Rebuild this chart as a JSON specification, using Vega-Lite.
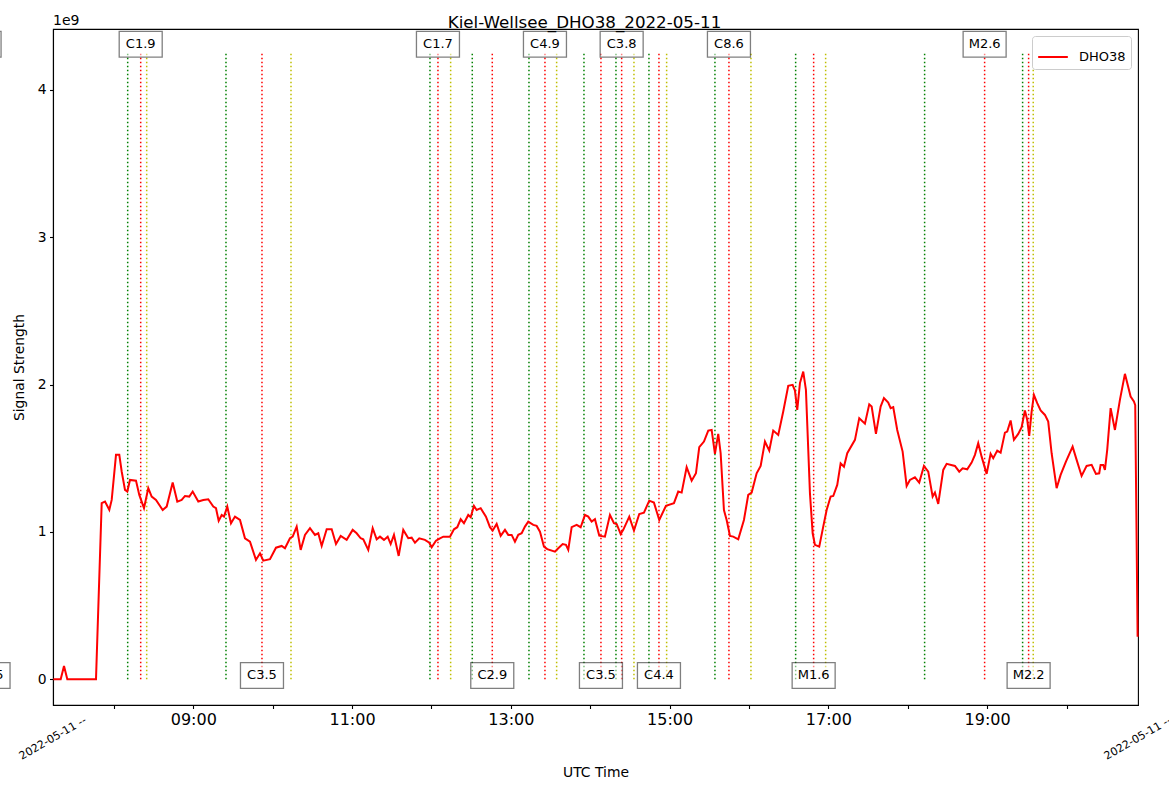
{
  "$schema": "https://vega.github.io/schema/vega-lite/v6.json",
  "width": 1085,
  "height": 676,
  "autosize": {"type": "none"},
  "padding": {"left": 53, "top": 29, "right": 31, "bottom": 87},
  "background": "white",
  "config": {
    "font": "DejaVu Sans",
    "view": {"stroke": "black", "strokeWidth": 1.1},
    "axis": {
      "grid": false,
      "domainColor": "black",
      "domainWidth": 1.1,
      "tickColor": "black",
      "tickWidth": 1.1,
      "labelColor": "black",
      "titleColor": "black",
      "titleFontWeight": "normal"
    }
  },
  "datasets": {
    "signal": [
      {"time": "2022-05-11T07:14:14", "signal": 0},
      {"time": "2022-05-11T07:19:49", "signal": 0},
      {"time": "2022-05-11T07:22:19", "signal": 0.09},
      {"time": "2022-05-11T07:24:49", "signal": 0},
      {"time": "2022-05-11T07:46:30", "signal": 0},
      {"time": "2022-05-11T07:50:48", "signal": 1.195},
      {"time": "2022-05-11T07:53:18", "signal": 1.206},
      {"time": "2022-05-11T07:56:33", "signal": 1.15},
      {"time": "2022-05-11T07:58:22", "signal": 1.217},
      {"time": "2022-05-11T08:01:37", "signal": 1.523},
      {"time": "2022-05-11T08:04:06", "signal": 1.523},
      {"time": "2022-05-11T08:05:55", "signal": 1.41},
      {"time": "2022-05-11T08:08:25", "signal": 1.285},
      {"time": "2022-05-11T08:10:09", "signal": 1.274},
      {"time": "2022-05-11T08:12:11", "signal": 1.353},
      {"time": "2022-05-11T08:16:43", "signal": 1.348},
      {"time": "2022-05-11T08:19:13", "signal": 1.251},
      {"time": "2022-05-11T08:22:46", "signal": 1.161},
      {"time": "2022-05-11T08:26:01", "signal": 1.297},
      {"time": "2022-05-11T08:28:35", "signal": 1.24},
      {"time": "2022-05-11T08:31:50", "signal": 1.217},
      {"time": "2022-05-11T08:36:54", "signal": 1.149},
      {"time": "2022-05-11T08:39:55", "signal": 1.172},
      {"time": "2022-05-11T08:44:27", "signal": 1.335},
      {"time": "2022-05-11T08:47:56", "signal": 1.206},
      {"time": "2022-05-11T08:51:15", "signal": 1.217},
      {"time": "2022-05-11T08:53:45", "signal": 1.244},
      {"time": "2022-05-11T08:57:00", "signal": 1.24},
      {"time": "2022-05-11T08:59:34", "signal": 1.274},
      {"time": "2022-05-11T09:03:48", "signal": 1.206},
      {"time": "2022-05-11T09:07:35", "signal": 1.217},
      {"time": "2022-05-11T09:11:21", "signal": 1.222},
      {"time": "2022-05-11T09:15:08", "signal": 1.172},
      {"time": "2022-05-11T09:17:11", "signal": 1.161},
      {"time": "2022-05-11T09:19:13", "signal": 1.075},
      {"time": "2022-05-11T09:21:29", "signal": 1.115},
      {"time": "2022-05-11T09:23:13", "signal": 1.104},
      {"time": "2022-05-11T09:25:43", "signal": 1.172},
      {"time": "2022-05-11T09:28:31", "signal": 1.059},
      {"time": "2022-05-11T09:31:32", "signal": 1.104},
      {"time": "2022-05-11T09:35:19", "signal": 1.081},
      {"time": "2022-05-11T09:39:05", "signal": 0.957},
      {"time": "2022-05-11T09:42:52", "signal": 0.934},
      {"time": "2022-05-11T09:47:24", "signal": 0.81},
      {"time": "2022-05-11T09:50:26", "signal": 0.855},
      {"time": "2022-05-11T09:52:55", "signal": 0.805},
      {"time": "2022-05-11T09:57:59", "signal": 0.815},
      {"time": "2022-05-11T10:02:31", "signal": 0.893},
      {"time": "2022-05-11T10:06:50", "signal": 0.905},
      {"time": "2022-05-11T10:09:19", "signal": 0.889},
      {"time": "2022-05-11T10:13:06", "signal": 0.957},
      {"time": "2022-05-11T10:15:08", "signal": 0.968},
      {"time": "2022-05-11T10:18:10", "signal": 1.036},
      {"time": "2022-05-11T10:21:11", "signal": 0.878},
      {"time": "2022-05-11T10:24:26", "signal": 0.98},
      {"time": "2022-05-11T10:28:13", "signal": 1.025},
      {"time": "2022-05-11T10:31:59", "signal": 0.98},
      {"time": "2022-05-11T10:34:29", "signal": 0.991},
      {"time": "2022-05-11T10:37:04", "signal": 0.905},
      {"time": "2022-05-11T10:40:50", "signal": 1.018},
      {"time": "2022-05-11T10:44:37", "signal": 1.018},
      {"time": "2022-05-11T10:47:52", "signal": 0.918},
      {"time": "2022-05-11T10:51:25", "signal": 0.973},
      {"time": "2022-05-11T10:55:57", "signal": 0.946},
      {"time": "2022-05-11T11:00:29", "signal": 1.014},
      {"time": "2022-05-11T11:03:30", "signal": 0.991},
      {"time": "2022-05-11T11:06:32", "signal": 0.957},
      {"time": "2022-05-11T11:08:30", "signal": 0.95},
      {"time": "2022-05-11T11:12:16", "signal": 0.878},
      {"time": "2022-05-11T11:15:36", "signal": 1.025},
      {"time": "2022-05-11T11:18:37", "signal": 0.95},
      {"time": "2022-05-11T11:21:07", "signal": 0.968},
      {"time": "2022-05-11T11:24:08", "signal": 0.946},
      {"time": "2022-05-11T11:26:56", "signal": 0.968},
      {"time": "2022-05-11T11:29:12", "signal": 0.918},
      {"time": "2022-05-11T11:31:41", "signal": 0.98},
      {"time": "2022-05-11T11:35:15", "signal": 0.837},
      {"time": "2022-05-11T11:38:43", "signal": 1.014},
      {"time": "2022-05-11T11:42:30", "signal": 0.957},
      {"time": "2022-05-11T11:45:04", "signal": 0.961},
      {"time": "2022-05-11T11:47:34", "signal": 0.927},
      {"time": "2022-05-11T11:50:49", "signal": 0.957},
      {"time": "2022-05-11T11:55:07", "signal": 0.946},
      {"time": "2022-05-11T11:58:22", "signal": 0.927},
      {"time": "2022-05-11T12:00:11", "signal": 0.896},
      {"time": "2022-05-11T12:03:26", "signal": 0.941},
      {"time": "2022-05-11T12:06:28", "signal": 0.957},
      {"time": "2022-05-11T12:08:57", "signal": 0.968},
      {"time": "2022-05-11T12:14:01", "signal": 0.968},
      {"time": "2022-05-11T12:17:02", "signal": 1.018},
      {"time": "2022-05-11T12:19:32", "signal": 1.032},
      {"time": "2022-05-11T12:22:06", "signal": 1.086},
      {"time": "2022-05-11T12:24:35", "signal": 1.059},
      {"time": "2022-05-11T12:27:50", "signal": 1.115},
      {"time": "2022-05-11T12:29:40", "signal": 1.1},
      {"time": "2022-05-11T12:32:09", "signal": 1.177},
      {"time": "2022-05-11T12:34:11", "signal": 1.149},
      {"time": "2022-05-11T12:37:13", "signal": 1.161},
      {"time": "2022-05-11T12:41:13", "signal": 1.104},
      {"time": "2022-05-11T12:44:14", "signal": 1.032},
      {"time": "2022-05-11T12:46:17", "signal": 1.009},
      {"time": "2022-05-11T12:49:18", "signal": 1.054},
      {"time": "2022-05-11T12:52:20", "signal": 0.973},
      {"time": "2022-05-11T12:55:35", "signal": 1.014},
      {"time": "2022-05-11T12:58:04", "signal": 0.98},
      {"time": "2022-05-11T13:00:38", "signal": 0.98},
      {"time": "2022-05-11T13:03:08", "signal": 0.934},
      {"time": "2022-05-11T13:05:38", "signal": 0.98},
      {"time": "2022-05-11T13:08:12", "signal": 0.991},
      {"time": "2022-05-11T13:10:41", "signal": 1.036},
      {"time": "2022-05-11T13:13:11", "signal": 1.07},
      {"time": "2022-05-11T13:16:58", "signal": 1.048},
      {"time": "2022-05-11T13:19:32", "signal": 1.041},
      {"time": "2022-05-11T13:22:02", "signal": 1.002},
      {"time": "2022-05-11T13:25:03", "signal": 0.9},
      {"time": "2022-05-11T13:27:32", "signal": 0.883},
      {"time": "2022-05-11T13:33:22", "signal": 0.866},
      {"time": "2022-05-11T13:35:52", "signal": 0.889},
      {"time": "2022-05-11T13:39:11", "signal": 0.918},
      {"time": "2022-05-11T13:41:40", "signal": 0.912},
      {"time": "2022-05-11T13:43:25", "signal": 0.878},
      {"time": "2022-05-11T13:45:59", "signal": 1.032},
      {"time": "2022-05-11T13:49:46", "signal": 1.048},
      {"time": "2022-05-11T13:52:47", "signal": 1.032},
      {"time": "2022-05-11T13:56:02", "signal": 1.115},
      {"time": "2022-05-11T13:58:31", "signal": 1.104},
      {"time": "2022-05-11T14:01:05", "signal": 1.07},
      {"time": "2022-05-11T14:03:35", "signal": 1.086},
      {"time": "2022-05-11T14:06:50", "signal": 0.975},
      {"time": "2022-05-11T14:11:08", "signal": 0.968},
      {"time": "2022-05-11T14:14:55", "signal": 1.115},
      {"time": "2022-05-11T14:17:57", "signal": 1.059},
      {"time": "2022-05-11T14:19:59", "signal": 1.054},
      {"time": "2022-05-11T14:23:01", "signal": 0.986},
      {"time": "2022-05-11T14:24:58", "signal": 1.014},
      {"time": "2022-05-11T14:29:31", "signal": 1.104},
      {"time": "2022-05-11T14:33:04", "signal": 1.009},
      {"time": "2022-05-11T14:37:04", "signal": 1.122},
      {"time": "2022-05-11T14:40:37", "signal": 1.131},
      {"time": "2022-05-11T14:44:37", "signal": 1.212},
      {"time": "2022-05-11T14:48:10", "signal": 1.199},
      {"time": "2022-05-11T14:52:11", "signal": 1.081},
      {"time": "2022-05-11T14:57:14", "signal": 1.177},
      {"time": "2022-05-11T15:03:17", "signal": 1.195},
      {"time": "2022-05-11T15:06:32", "signal": 1.274},
      {"time": "2022-05-11T15:09:07", "signal": 1.267},
      {"time": "2022-05-11T15:12:53", "signal": 1.439},
      {"time": "2022-05-11T15:16:40", "signal": 1.348},
      {"time": "2022-05-11T15:19:55", "signal": 1.398},
      {"time": "2022-05-11T15:22:25", "signal": 1.575},
      {"time": "2022-05-11T15:25:58", "signal": 1.613},
      {"time": "2022-05-11T15:29:13", "signal": 1.688},
      {"time": "2022-05-11T15:31:47", "signal": 1.692},
      {"time": "2022-05-11T15:34:16", "signal": 1.53},
      {"time": "2022-05-11T15:36:46", "signal": 1.665},
      {"time": "2022-05-11T15:38:35", "signal": 1.534},
      {"time": "2022-05-11T15:41:04", "signal": 1.149},
      {"time": "2022-05-11T15:43:07", "signal": 1.081},
      {"time": "2022-05-11T15:45:37", "signal": 0.973},
      {"time": "2022-05-11T15:48:06", "signal": 0.968},
      {"time": "2022-05-11T15:51:53", "signal": 0.95},
      {"time": "2022-05-11T15:56:11", "signal": 1.081},
      {"time": "2022-05-11T15:59:26", "signal": 1.251},
      {"time": "2022-05-11T16:02:01", "signal": 1.267},
      {"time": "2022-05-11T16:05:47", "signal": 1.398},
      {"time": "2022-05-11T16:08:49", "signal": 1.448},
      {"time": "2022-05-11T16:12:04", "signal": 1.613},
      {"time": "2022-05-11T16:15:19", "signal": 1.552},
      {"time": "2022-05-11T16:18:20", "signal": 1.688},
      {"time": "2022-05-11T16:22:07", "signal": 1.658},
      {"time": "2022-05-11T16:25:53", "signal": 1.817},
      {"time": "2022-05-11T16:29:40", "signal": 1.991},
      {"time": "2022-05-11T16:32:59", "signal": 1.998},
      {"time": "2022-05-11T16:34:44", "signal": 1.959},
      {"time": "2022-05-11T16:36:28", "signal": 1.828},
      {"time": "2022-05-11T16:38:31", "signal": 2.01},
      {"time": "2022-05-11T16:41:00", "signal": 2.088},
      {"time": "2022-05-11T16:43:02", "signal": 1.964},
      {"time": "2022-05-11T16:46:04", "signal": 1.263},
      {"time": "2022-05-11T16:48:07", "signal": 0.991},
      {"time": "2022-05-11T16:49:51", "signal": 0.912},
      {"time": "2022-05-11T16:53:06", "signal": 0.9},
      {"time": "2022-05-11T16:56:07", "signal": 1.036},
      {"time": "2022-05-11T16:58:41", "signal": 1.149},
      {"time": "2022-05-11T17:01:43", "signal": 1.24},
      {"time": "2022-05-11T17:03:41", "signal": 1.244},
      {"time": "2022-05-11T17:06:42", "signal": 1.319},
      {"time": "2022-05-11T17:09:16", "signal": 1.466},
      {"time": "2022-05-11T17:11:46", "signal": 1.443},
      {"time": "2022-05-11T17:14:16", "signal": 1.534},
      {"time": "2022-05-11T17:20:05", "signal": 1.625},
      {"time": "2022-05-11T17:23:20", "signal": 1.772},
      {"time": "2022-05-11T17:27:38", "signal": 1.735},
      {"time": "2022-05-11T17:30:53", "signal": 1.866},
      {"time": "2022-05-11T17:32:42", "signal": 1.851},
      {"time": "2022-05-11T17:35:57", "signal": 1.665},
      {"time": "2022-05-11T17:39:30", "signal": 1.851},
      {"time": "2022-05-11T17:41:59", "signal": 1.908},
      {"time": "2022-05-11T17:45:14", "signal": 1.878},
      {"time": "2022-05-11T17:47:04", "signal": 1.84},
      {"time": "2022-05-11T17:49:01", "signal": 1.847},
      {"time": "2022-05-11T17:52:02", "signal": 1.692},
      {"time": "2022-05-11T17:56:07", "signal": 1.545},
      {"time": "2022-05-11T17:59:09", "signal": 1.312},
      {"time": "2022-05-11T18:01:38", "signal": 1.353},
      {"time": "2022-05-11T18:05:25", "signal": 1.371},
      {"time": "2022-05-11T18:08:40", "signal": 1.335},
      {"time": "2022-05-11T18:12:13", "signal": 1.448},
      {"time": "2022-05-11T18:15:28", "signal": 1.409},
      {"time": "2022-05-11T18:18:48", "signal": 1.24},
      {"time": "2022-05-11T18:20:32", "signal": 1.267},
      {"time": "2022-05-11T18:23:02", "signal": 1.19},
      {"time": "2022-05-11T18:26:49", "signal": 1.421},
      {"time": "2022-05-11T18:29:23", "signal": 1.462},
      {"time": "2022-05-11T18:35:39", "signal": 1.448},
      {"time": "2022-05-11T18:38:54", "signal": 1.409},
      {"time": "2022-05-11T18:41:28", "signal": 1.432},
      {"time": "2022-05-11T18:44:56", "signal": 1.425},
      {"time": "2022-05-11T18:48:16", "signal": 1.471},
      {"time": "2022-05-11T18:50:46", "signal": 1.523},
      {"time": "2022-05-11T18:53:15", "signal": 1.602},
      {"time": "2022-05-11T18:55:49", "signal": 1.511},
      {"time": "2022-05-11T18:59:36", "signal": 1.394},
      {"time": "2022-05-11T19:02:37", "signal": 1.53},
      {"time": "2022-05-11T19:04:35", "signal": 1.5},
      {"time": "2022-05-11T19:07:37", "signal": 1.552},
      {"time": "2022-05-11T19:10:11", "signal": 1.538},
      {"time": "2022-05-11T19:13:26", "signal": 1.674},
      {"time": "2022-05-11T19:15:10", "signal": 1.681},
      {"time": "2022-05-11T19:17:44", "signal": 1.756},
      {"time": "2022-05-11T19:20:14", "signal": 1.625},
      {"time": "2022-05-11T19:23:29", "signal": 1.665},
      {"time": "2022-05-11T19:26:03", "signal": 1.711},
      {"time": "2022-05-11T19:28:32", "signal": 1.824},
      {"time": "2022-05-11T19:30:17", "signal": 1.76},
      {"time": "2022-05-11T19:31:47", "signal": 1.652},
      {"time": "2022-05-11T19:33:36", "signal": 1.817},
      {"time": "2022-05-11T19:35:20", "signal": 1.93},
      {"time": "2022-05-11T19:37:50", "signal": 1.874},
      {"time": "2022-05-11T19:40:25", "signal": 1.824},
      {"time": "2022-05-11T19:43:40", "signal": 1.794},
      {"time": "2022-05-11T19:46:09", "signal": 1.749},
      {"time": "2022-05-11T19:48:43", "signal": 1.534},
      {"time": "2022-05-11T19:52:30", "signal": 1.297},
      {"time": "2022-05-11T19:55:31", "signal": 1.387},
      {"time": "2022-05-11T19:59:32", "signal": 1.477},
      {"time": "2022-05-11T20:04:35", "signal": 1.579},
      {"time": "2022-05-11T20:07:37", "signal": 1.489},
      {"time": "2022-05-11T20:11:23", "signal": 1.38},
      {"time": "2022-05-11T20:15:10", "signal": 1.448},
      {"time": "2022-05-11T20:18:57", "signal": 1.455},
      {"time": "2022-05-11T20:22:12", "signal": 1.394},
      {"time": "2022-05-11T20:24:41", "signal": 1.398},
      {"time": "2022-05-11T20:25:45", "signal": 1.455},
      {"time": "2022-05-11T20:27:43", "signal": 1.455},
      {"time": "2022-05-11T20:29:00", "signal": 1.421},
      {"time": "2022-05-11T20:30:44", "signal": 1.557},
      {"time": "2022-05-11T20:33:19", "signal": 1.84},
      {"time": "2022-05-11T20:36:34", "signal": 1.692},
      {"time": "2022-05-11T20:40:20", "signal": 1.896},
      {"time": "2022-05-11T20:44:07", "signal": 2.073},
      {"time": "2022-05-11T20:48:25", "signal": 1.919},
      {"time": "2022-05-11T20:50:55", "signal": 1.885},
      {"time": "2022-05-11T20:51:54", "signal": 1.86},
      {"time": "2022-05-11T20:53:43", "signal": 0.289}
    ],
    "flares": [
      {"time": "2022-05-11T08:10:27", "kind": "start"},
      {"time": "2022-05-11T08:20:17", "kind": "peak"},
      {"time": "2022-05-11T08:24:49", "kind": "end"},
      {"time": "2022-05-11T09:24:44", "kind": "start"},
      {"time": "2022-05-11T09:51:56", "kind": "peak"},
      {"time": "2022-05-11T10:13:52", "kind": "end"},
      {"time": "2022-05-11T11:58:54", "kind": "start"},
      {"time": "2022-05-11T12:04:56", "kind": "peak"},
      {"time": "2022-05-11T12:14:32", "kind": "end"},
      {"time": "2022-05-11T12:30:52", "kind": "start"},
      {"time": "2022-05-11T12:45:59", "kind": "peak"},
      {"time": "2022-05-11T13:13:43", "kind": "start"},
      {"time": "2022-05-11T13:25:48", "kind": "peak"},
      {"time": "2022-05-11T13:34:38", "kind": "end"},
      {"time": "2022-05-11T13:55:17", "kind": "start"},
      {"time": "2022-05-11T14:08:07", "kind": "peak"},
      {"time": "2022-05-11T14:19:28", "kind": "start"},
      {"time": "2022-05-11T14:23:46", "kind": "peak"},
      {"time": "2022-05-11T14:33:04", "kind": "end"},
      {"time": "2022-05-11T14:44:24", "kind": "start"},
      {"time": "2022-05-11T14:51:57", "kind": "peak"},
      {"time": "2022-05-11T14:57:46", "kind": "end"},
      {"time": "2022-05-11T15:34:16", "kind": "start"},
      {"time": "2022-05-11T15:44:51", "kind": "peak"},
      {"time": "2022-05-11T16:01:29", "kind": "end"},
      {"time": "2022-05-11T16:35:16", "kind": "start"},
      {"time": "2022-05-11T16:48:52", "kind": "peak"},
      {"time": "2022-05-11T16:57:56", "kind": "end"},
      {"time": "2022-05-11T18:12:44", "kind": "start"},
      {"time": "2022-05-11T18:58:05", "kind": "peak"},
      {"time": "2022-05-11T19:26:48", "kind": "start"},
      {"time": "2022-05-11T19:31:20", "kind": "peak"},
      {"time": "2022-05-11T19:34:49", "kind": "end"}
    ],
    "labels": [
      {"time": "2022-05-11T06:18:30", "label": "C1.5", "side": "top"},
      {"time": "2022-05-11T06:25:17", "label": "C2.5", "side": "bottom"},
      {"time": "2022-05-11T08:20:17", "label": "C1.9", "side": "top"},
      {"time": "2022-05-11T09:51:56", "label": "C3.5", "side": "bottom"},
      {"time": "2022-05-11T12:04:56", "label": "C1.7", "side": "top"},
      {"time": "2022-05-11T12:45:59", "label": "C2.9", "side": "bottom"},
      {"time": "2022-05-11T13:25:48", "label": "C4.9", "side": "top"},
      {"time": "2022-05-11T14:08:07", "label": "C3.5", "side": "bottom"},
      {"time": "2022-05-11T14:23:46", "label": "C3.8", "side": "top"},
      {"time": "2022-05-11T14:51:57", "label": "C4.4", "side": "bottom"},
      {"time": "2022-05-11T15:44:51", "label": "C8.6", "side": "top"},
      {"time": "2022-05-11T16:48:52", "label": "M1.6", "side": "bottom"},
      {"time": "2022-05-11T18:58:05", "label": "M2.6", "side": "top"},
      {"time": "2022-05-11T19:31:20", "label": "M2.2", "side": "bottom"}
    ],
    "ends": [
      {"time": "2022-05-11T07:14:00", "label": "2022-05-11 --"},
      {"time": "2022-05-11T20:54:00", "label": "2022-05-11 --"}
    ],
    "heading": [
      {"time": "2022-05-11T07:14:00", "text": "1e9", "role": "offset"},
      {"time": "2022-05-11T13:55:40", "text": "Kiel-Wellsee_DHO38_2022-05-11", "role": "title"}
    ]
  },
  "encoding": {
    "x": {
      "field": "time",
      "type": "temporal",
      "scale": {
        "domain": [
          {"year": 2022, "month": 5, "date": 11, "hours": 7, "minutes": 14},
          {"year": 2022, "month": 5, "date": 11, "hours": 20, "minutes": 54}
        ],
        "nice": false
      },
      "axis": {
        "title": "UTC Time",
        "titleFontSize": 13.9,
        "titlePadding": 38,
        "labelFontSize": 16,
        "labelPadding": 3,
        "tickSize": 3.5,
        "labelOverlap": false,
        "labelFlush": false,
        "values": [
          {"year": 2022, "month": 5, "date": 11, "hours": 8},
          {"year": 2022, "month": 5, "date": 11, "hours": 9},
          {"year": 2022, "month": 5, "date": 11, "hours": 10},
          {"year": 2022, "month": 5, "date": 11, "hours": 11},
          {"year": 2022, "month": 5, "date": 11, "hours": 12},
          {"year": 2022, "month": 5, "date": 11, "hours": 13},
          {"year": 2022, "month": 5, "date": 11, "hours": 14},
          {"year": 2022, "month": 5, "date": 11, "hours": 15},
          {"year": 2022, "month": 5, "date": 11, "hours": 16},
          {"year": 2022, "month": 5, "date": 11, "hours": 17},
          {"year": 2022, "month": 5, "date": 11, "hours": 18},
          {"year": 2022, "month": 5, "date": 11, "hours": 19},
          {"year": 2022, "month": 5, "date": 11, "hours": 20}
        ],
        "labelExpr": "hours(datum.value) % 2 == 1 ? timeFormat(datum.value, '%H:%M') : ''"
      }
    }
  },
  "layer": [
    {
      "data": {"name": "flares"},
      "mark": {"type": "rule", "strokeDash": [1.5, 2.5], "strokeWidth": 1.5},
      "encoding": {
        "y": {"datum": 0, "type": "quantitative", "scale": {"domain": [-0.1745, 4.413], "nice": false, "zero": false}},
        "y2": {"datum": 4.25},
        "color": {
          "field": "kind",
          "type": "nominal",
          "scale": {"domain": ["start", "peak", "end"], "range": ["#008000", "#ff0000", "#bfbf00"]},
          "legend": null
        }
      }
    },
    {
      "data": {"name": "signal"},
      "mark": {"type": "line", "strokeWidth": 2},
      "encoding": {
        "y": {
          "field": "signal",
          "type": "quantitative",
          "scale": {"domain": [-0.1745, 4.413], "nice": false, "zero": false},
          "axis": {
            "title": "Signal Strength",
            "titleFontSize": 13.9,
            "titlePadding": 11,
            "labelFontSize": 13.9,
            "labelPadding": 3.5,
            "tickSize": 3.5,
            "values": [0, 1, 2, 3, 4],
            "format": "d"
          }
        },
        "color": {
          "datum": "DHO38",
          "type": "nominal",
          "scale": {"range": ["#ff0000"]},
          "legend": {
            "title": null,
            "orient": "top-right",
            "offset": 7,
            "fillColor": "white",
            "strokeColor": "#cccccc",
            "cornerRadius": 3,
            "padding": 5,
            "symbolType": "stroke",
            "symbolStrokeWidth": 2,
            "symbolSize": 880,
            "labelFontSize": 13,
            "labelColor": "black",
            "labelOffset": 10
          }
        }
      }
    },
    {
      "data": {"name": "labels"},
      "transform": [{"filter": "datum.side == 'top'"}],
      "encoding": {
        "y": {"datum": 4.31, "type": "quantitative", "scale": {"domain": [-0.1745, 4.413], "nice": false, "zero": false}}
      },
      "layer": [
        {
          "mark": {
            "type": "point",
            "shape": "M-1,-0.6L1,-0.6L1,0.6L-1,0.6Z",
            "size": 1849,
            "filled": true,
            "fill": "white",
            "fillOpacity": 0.5,
            "stroke": "black",
            "strokeOpacity": 0.5,
            "strokeWidth": 1.3,
            "opacity": 1
          }
        },
        {
          "mark": {"type": "text", "fontSize": 13, "baseline": "middle", "color": "black"},
          "encoding": {"text": {"field": "label"}}
        }
      ]
    },
    {
      "data": {"name": "labels"},
      "transform": [{"filter": "datum.side == 'bottom'"}],
      "encoding": {
        "y": {"datum": 0.026, "type": "quantitative", "scale": {"domain": [-0.1745, 4.413], "nice": false, "zero": false}}
      },
      "layer": [
        {
          "mark": {
            "type": "point",
            "shape": "M-1,-0.6L1,-0.6L1,0.6L-1,0.6Z",
            "size": 1849,
            "filled": true,
            "fill": "white",
            "fillOpacity": 0.5,
            "stroke": "black",
            "strokeOpacity": 0.5,
            "strokeWidth": 1.3,
            "opacity": 1
          }
        },
        {
          "mark": {"type": "text", "fontSize": 13, "baseline": "middle", "color": "black"},
          "encoding": {"text": {"field": "label"}}
        }
      ]
    },
    {
      "data": {"name": "ends"},
      "mark": {"type": "text", "fontSize": 11, "angle": 330, "align": "center", "baseline": "middle", "color": "black"},
      "encoding": {
        "y": {"datum": -0.402, "type": "quantitative", "scale": {"domain": [-0.1745, 4.413], "nice": false, "zero": false}},
        "text": {"field": "label"}
      }
    },
    {
      "data": {"name": "heading"},
      "transform": [{"filter": "datum.role == 'offset'"}],
      "mark": {"type": "text", "fontSize": 14, "align": "left", "baseline": "alphabetic", "dy": -4, "color": "black"},
      "encoding": {
        "y": {"datum": 4.413, "type": "quantitative", "scale": {"domain": [-0.1745, 4.413], "nice": false, "zero": false}},
        "text": {"field": "text"}
      }
    },
    {
      "data": {"name": "heading"},
      "transform": [{"filter": "datum.role == 'title'"}],
      "mark": {"type": "text", "fontSize": 16.7, "align": "center", "baseline": "alphabetic", "dy": -1, "color": "black"},
      "encoding": {
        "y": {"datum": 4.413, "type": "quantitative", "scale": {"domain": [-0.1745, 4.413], "nice": false, "zero": false}},
        "text": {"field": "text"}
      }
    }
  ],
  "resolve": {"scale": {"color": "independent"}}
}
